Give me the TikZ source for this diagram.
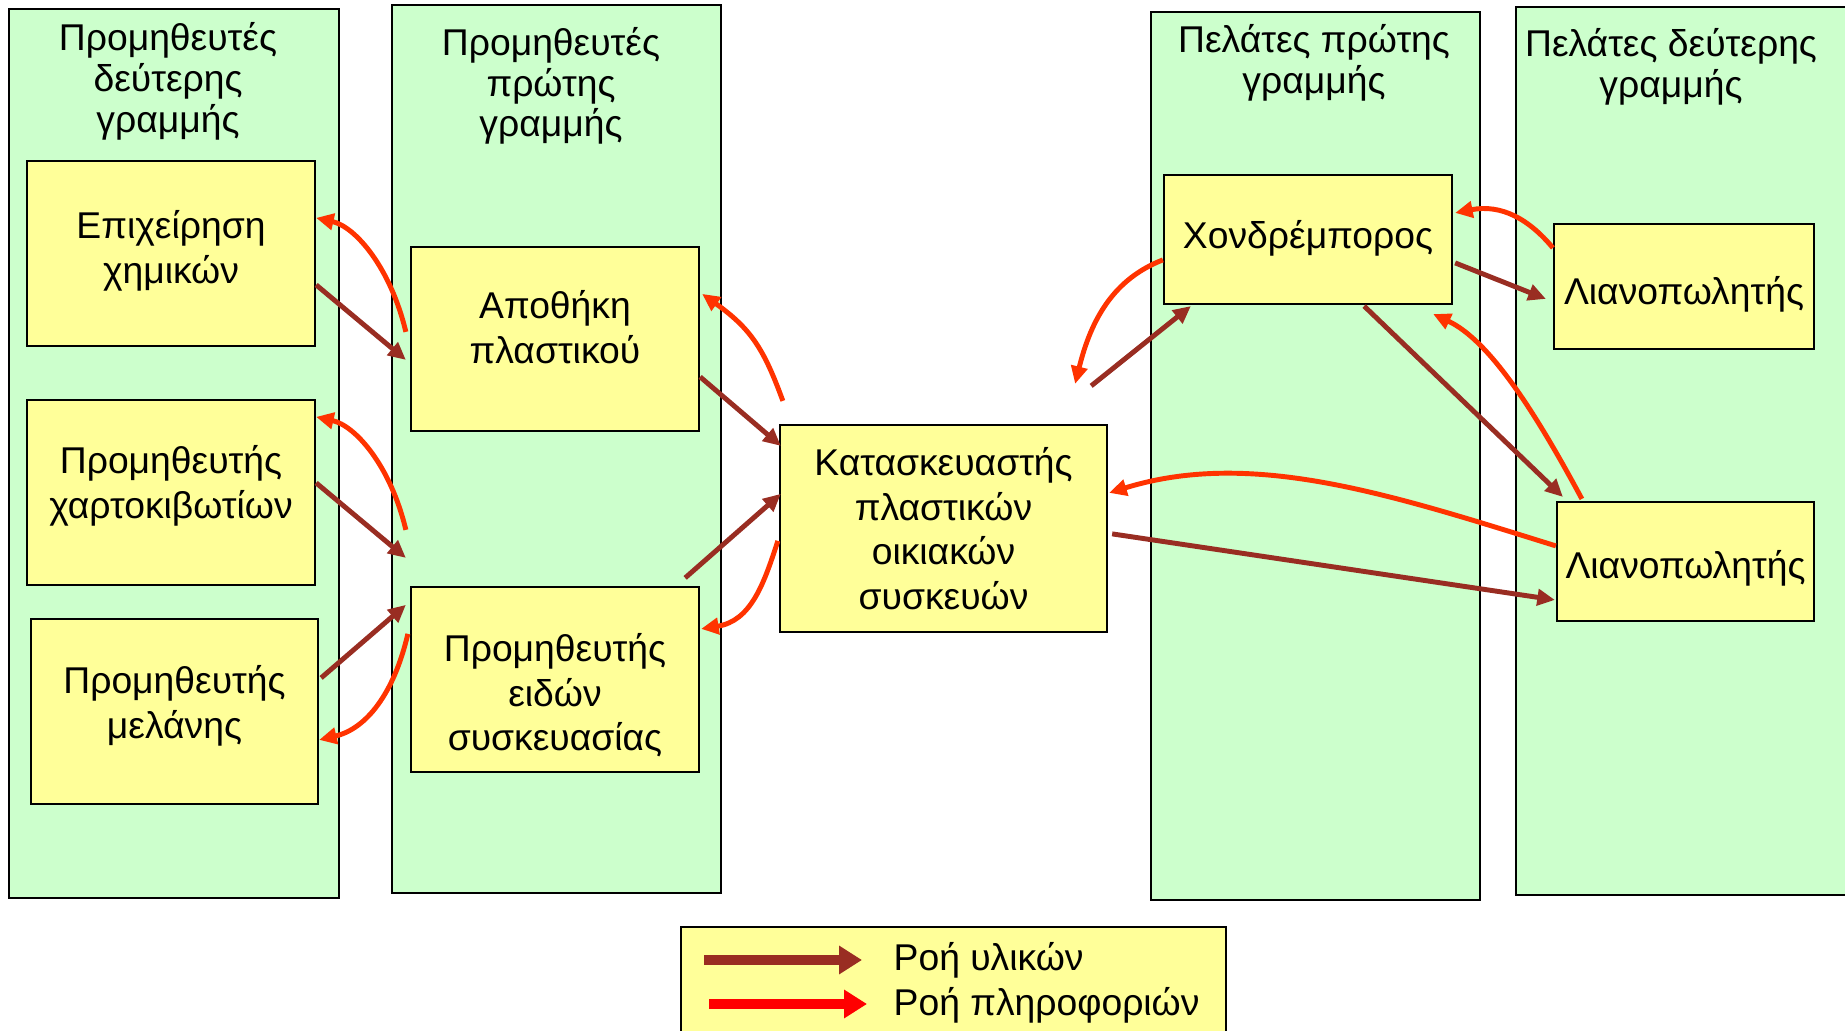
\documentclass[tikz,border=0pt]{standalone}
\usepackage{fontspec}
\setmainfont{Liberation Sans}
\usetikzlibrary{arrows.meta,calc}
\definecolor{colgreen}{RGB}{204,255,204}
\definecolor{boxyellow}{RGB}{255,255,153}
\definecolor{matcol}{RGB}{153,45,34}
\definecolor{infocol}{RGB}{255,51,0}
\definecolor{legred}{RGB}{255,0,0}
\newcommand\bxfont{\fontsize{10.6pt}{12.7pt}\selectfont}
\newcommand\hdfont{\fontsize{10.6pt}{11.6pt}\selectfont}
\begin{document}
\begin{tikzpicture}[x=0.01cm,y=-0.01cm,
  column/.style={draw=black,fill=colgreen,line width=0.6pt},
  box/.style={draw=black,fill=boxyellow,line width=0.6pt,inner sep=0pt},
  btext/.style={align=center,font=\bxfont,inner sep=0pt},
  hdr/.style={align=center,font=\hdfont,inner sep=0pt},
  mat/.style={draw=matcol,line width=1.4pt,-{Triangle[length=5pt,width=4.6pt]}},
  info/.style={draw=infocol,line width=1.4pt,-{Triangle[length=5pt,width=4.6pt]}},
  legarrow/.style={line width=2.85pt,-{Triangle[length=6.5pt,width=7.7pt]}},
  legtext/.style={anchor=west,font=\bxfont,inner sep=0pt}]
\useasboundingbox (0,0) rectangle (1845,1031);
\clip (0,0) rectangle (1845,1031);
% columns
\draw[column] (9,9) rectangle (339,898);
\draw[column] (392,5) rectangle (721,893);
\draw[column] (1151,12) rectangle (1480,900);
\draw[column] (1516,7) rectangle (1860,895);
% headers
\node[hdr] (h1) at (168,81.5) {Προμηθευτές\\δεύτερης\\γραμμής};
\node[hdr] (h2) at (551,86) {Προμηθευτές\\πρώτης\\γραμμής};
\node[hdr] (h3) at (1314,63) {Πελάτες πρώτης\\γραμμής};
\node[hdr] (h4) at (1671,66.5) {Πελάτες δεύτερης\\γραμμής};
% boxes
\node[box,minimum width=2.88cm,minimum height=1.85cm] (chem) at (171,253.5) {};
\node[box,minimum width=2.88cm,minimum height=1.85cm] (carton) at (171,492.5) {};
\node[box,minimum width=2.87cm,minimum height=1.85cm] (ink) at (174.5,711.5) {};
\node[box,minimum width=2.88cm,minimum height=1.84cm] (store) at (555,339) {};
\node[box,minimum width=2.88cm,minimum height=1.85cm] (pack) at (555,679.5) {};
\node[box,minimum width=3.27cm,minimum height=2.07cm] (manu) at (943.5,528.5) {};
\node[box,minimum width=2.88cm,minimum height=1.29cm] (whole) at (1308,239.5) {};
\node[box,minimum width=2.60cm,minimum height=1.25cm] (ret1) at (1684,286.5) {};
\node[box,minimum width=2.57cm,minimum height=1.19cm] (ret2) at (1685.5,561.5) {};
% box texts
\node[btext] (chemT) at ([shift={(0,-2.5)}]chem.center) {Επιχείρηση\\χημικών};
\node[btext] (cartonT) at ([shift={(0,-7)}]carton.center) {Προμηθευτής\\χαρτοκιβωτίων};
\node[btext] (inkT) at ([shift={(0,-6)}]ink.center) {Προμηθευτής\\μελάνης};
\node[btext] (storeT) at ([shift={(0,-12)}]store.center) {Αποθήκη\\πλαστικού};
\node[btext] (packT) at ([shift={(0,16)}]pack.center) {Προμηθευτής\\ειδών\\συσκευασίας};
\node[btext] (manuT) at (manu.center) {Κατασκευαστής\\πλαστικών\\οικιακών\\συσκευών};
\node[btext] (wholeT) at ([shift={(0,-1)}]whole.center) {Χονδρέμπορος};
\node[btext] (ret1T) at ([shift={(0,8)}]ret1.center) {Λιανοπωλητής};
\node[btext] (ret2T) at ([shift={(0,7)}]ret2.center) {Λιανοπωλητής};
% material flows
\draw[mat] ([shift={(0,125)}]chem.north east) -- ([shift={(-4,114)}]store.north west);
\draw[mat] ([shift={(0,84)}]carton.north east) -- ([shift={(-4,-28)}]pack.north west);
\draw[mat] ([shift={(2,60)}]ink.north east) -- ([shift={(-4,19)}]pack.north west);
\draw[mat] ([shift={(0,131)}]store.north east) -- ([shift={(2,22)}]manu.north west);
\draw[mat] ([shift={(-15,-8)}]pack.north east) -- ([shift={(2,70)}]manu.north west);
\draw[mat] ([shift={(-17,-38)}]manu.north east) -- ([shift={(28,1)}]whole.south west);
\draw[mat] ([shift={(2,89)}]whole.north east) -- ([shift={(-7,76)}]ret1.north west);
\draw[mat] ([shift={(-89,1)}]whole.south east) -- ([shift={(7,-4)}]ret2.north west);
\draw[mat] ([shift={(4,110)}]manu.north east) -- ([shift={(-1,99)}]ret2.north west);
% information flows
\draw[info] ([shift={(-4,86)}]store.north west) .. controls +(-15,-63) and +(40,9) .. ([shift={(0,58)}]chem.north east);
\draw[info] ([shift={(-4,-56)}]pack.north west) .. controls +(-15,-63) and +(40,9) .. ([shift={(0,18)}]carton.north east);
\draw[info] ([shift={(-2,48)}]pack.north west) .. controls +(-14,60) and +(47,-11) .. ([shift={(0,122)}]ink.north east);
\draw[info] ([shift={(4,-23)}]manu.north west) .. controls +(-19,-52) and +(49,35) .. ([shift={(2,48)}]store.north east);
\draw[info] ([shift={(-1,117)}]manu.north west) .. controls +(-14,43) and +(50,-8) .. ([shift={(1,43)}]pack.north east);
\draw[info] ([shift={(0,86)}]whole.north west) .. controls +(-49,19) and +(16,-65) .. ([shift={(-33,-40)}]manu.north east);
\draw[info] ([shift={(0,25)}]ret1.north west) .. controls +(-24,-29) and +(46,-9) .. ([shift={(2,39)}]whole.north east);
\draw[info] ([shift={(26,-2)}]ret2.north west) .. controls +(-43,-80) and +(58,27) .. ([shift={(-20,9)}]whole.south east);
\draw[info] ([shift={(0,45)}]ret2.north west) .. controls +(-167,-52) and +(142,-44) .. ([shift={(1,69)}]manu.north east);
% legend
\node[draw=black,fill=boxyellow,line width=0.6pt,anchor=north west,minimum width=5.45cm,minimum height=1.3cm,inner sep=0pt] (legend) at (680,926) {};
\coordinate (lm1) at (704,960);
\coordinate (lm2) at (862,960);
\coordinate (li1) at (709,1004);
\coordinate (li2) at (867,1004);
\draw[legarrow,draw=matcol,fill=matcol] (lm1) -- (lm2);
\draw[legarrow,draw=legred,fill=legred] (li1) -- (li2);
\node[legtext] (lt1) at (893,960.5) {Ροή υλικών};
\node[legtext] (lt2) at (893,1005.5) {Ροή πληροφοριών};
\end{tikzpicture}
\end{document}
